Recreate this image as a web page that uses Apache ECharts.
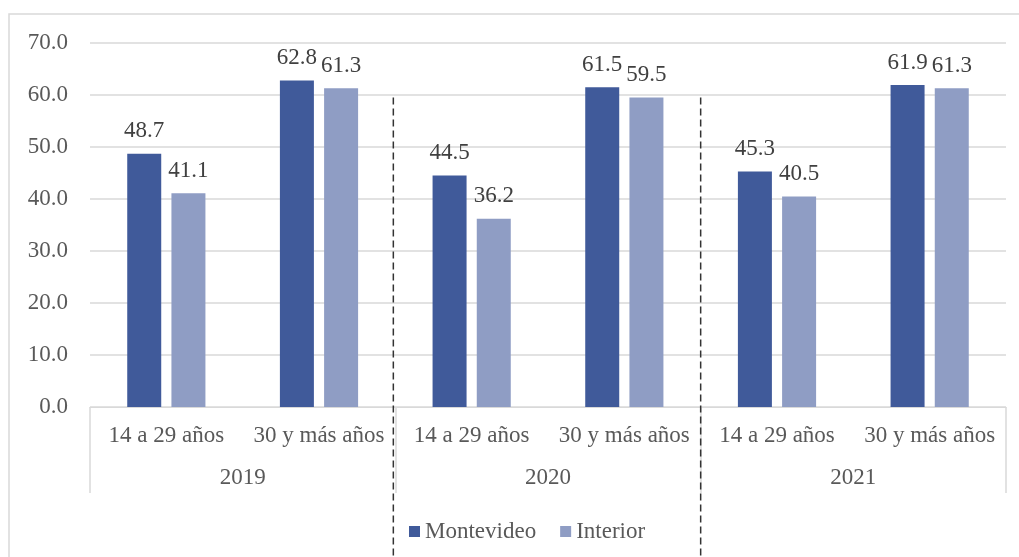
<!DOCTYPE html>
<html><head><meta charset="utf-8">
<script src="https://cdn.jsdelivr.net/npm/echarts@6/dist/echarts.min.js"></script>
<style>html,body{margin:0;padding:0;background:#fff}#c{width:1019px;height:557px}</style>
</head><body><div id="c"></div>
<script>
const ageGroups = ['14 a 29 años','30 y más años','14 a 29 años','30 y más años','14 a 29 años','30 y más años'];
const years = ['2019','2020','2021'];
const montevideo = [48.7, 62.8, 44.5, 61.5, 45.3, 61.9];
const interior = [41.1, 61.3, 36.2, 59.5, 40.5, 61.3];
const yTicks = [0,10,20,30,40,50,60,70];

const FONT = '"Liberation Serif", "Times New Roman", serif';
const chart = echarts.init(document.getElementById('c'));
const lbl = {show:true, position:'top', distance:11, fontFamily:FONT, fontSize:23, color:'#404040',
  formatter: p => p.value.toFixed(1)};
chart.setOption({
  animation:false,
  grid:{left:90, right:13, top:43, bottom:150},
  legend:{left:404, top:515, itemWidth:11, itemHeight:11, itemGap:24, icon:'rect',
    textStyle:{fontFamily:FONT, fontSize:23, color:'#595959'}},
  xAxis:[
    {type:'category', data:ageGroups, axisLine:{show:true, lineStyle:{color:'#d9d9d9', width:1}},
     axisTick:{show:false}, axisLabel:{interval:0, margin:17, fontFamily:FONT, fontSize:23, color:'#595959'}},
    {type:'category', data:years, position:'bottom', axisLine:{show:false},
     axisTick:{show:true, length:86, lineStyle:{color:'#d9d9d9', width:1.5}},
     axisLabel:{margin:59, fontFamily:FONT, fontSize:23, color:'#595959'}}
  ],
  yAxis:{type:'value', min:yTicks[0], max:yTicks[yTicks.length-1], interval:10,
    axisLine:{show:false}, axisTick:{show:false},
    splitLine:{lineStyle:{color:'#d9d9d9', width:1.5}},
    axisLabel:{margin:22, fontFamily:FONT, fontSize:23, color:'#595959', formatter:v=>v.toFixed(1)}},
  series:[
    {name:'Montevideo', type:'bar', data:montevideo, barWidth:34, barGap:'30%', itemStyle:{color:'#405A9A'}, label:lbl},
    {name:'Interior', type:'bar', data:interior, barWidth:34, barGap:'30%', itemStyle:{color:'#8F9DC4'}, label:lbl}
  ]
});
// dashed separators between years, positioned via axis scales
const x1 = chart.convertToPixel({xAxisIndex:0}, 1), x2 = chart.convertToPixel({xAxisIndex:0}, 2);
const x3 = chart.convertToPixel({xAxisIndex:0}, 3), x4 = chart.convertToPixel({xAxisIndex:0}, 4);
const yTop = chart.convertToPixel({yAxisIndex:0}, 59.5);
const sepA = (x1+x2)/2 - 2, sepB = (x3+x4)/2;
chart.setOption({graphic:[
  {type:'rect', shape:{x:9, y:14, width:1030, height:560}, style:{fill:'none', stroke:'#d9d9d9', lineWidth:1.5}, silent:true, z:-1},
  {type:'line', shape:{x1:sepA, y1:yTop, x2:sepA, y2:557}, style:{stroke:'#333', lineWidth:1.5, lineDash:[7,4]}, z:10},
  {type:'line', shape:{x1:sepB, y1:yTop, x2:sepB, y2:557}, style:{stroke:'#333', lineWidth:1.5, lineDash:[7,4]}, z:10}
]});
</script></body></html>
